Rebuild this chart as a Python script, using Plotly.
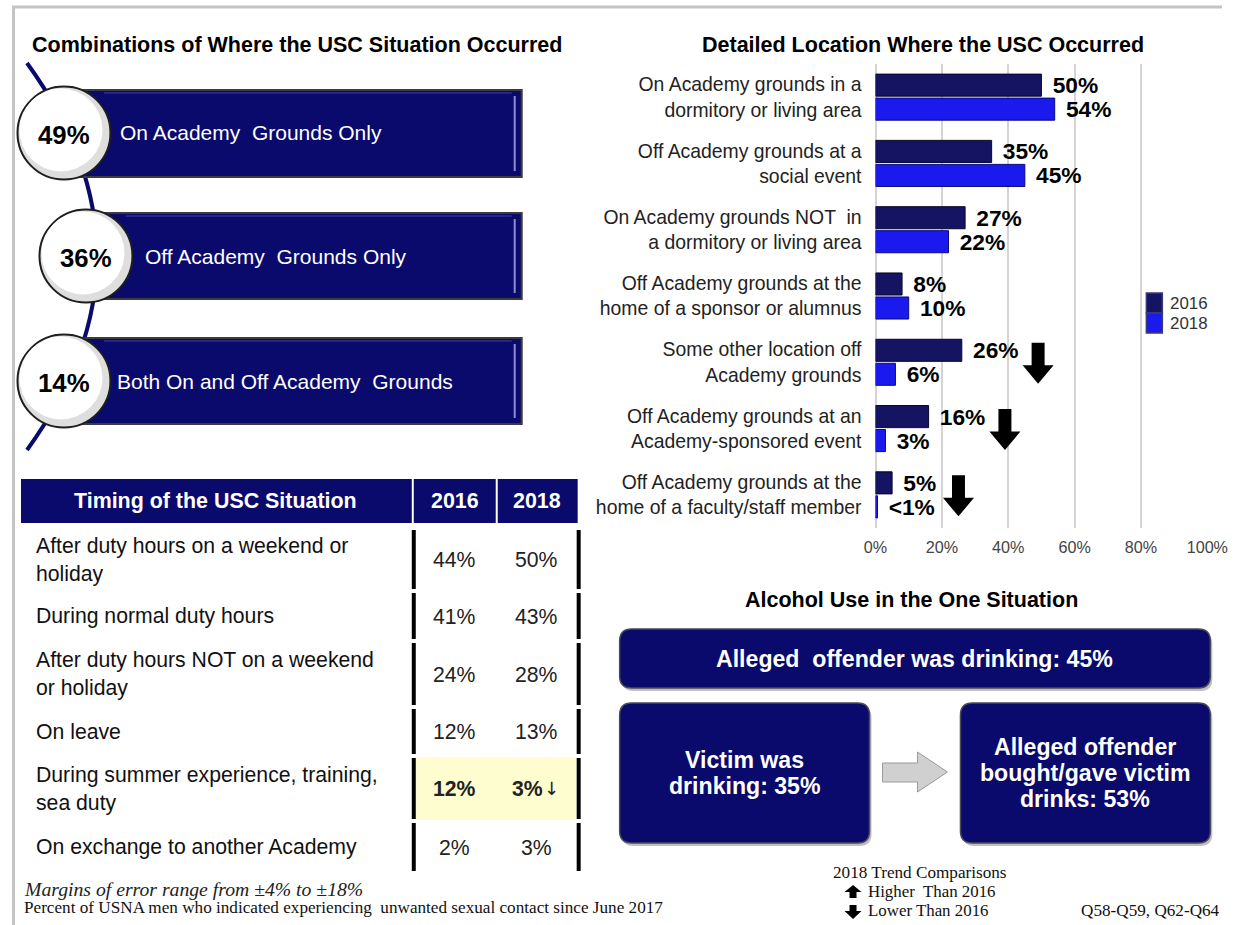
import plotly.graph_objects as go

W, H = 1243, 925
SANS = "Liberation Sans, Arial, sans-serif"
SERIF = "Liberation Serif, Times New Roman, serif"
NAVY = "#0a0a6c"
C2016 = "#141462"
C2018 = "#1a1aef"

# ---------------- data ----------------
combo_values = ["49%", "36%", "14%"]
combo_labels = ["On Academy  Grounds Only", "Off Academy  Grounds Only",
                "Both On and Off Academy  Grounds"]

years = ["2016", "2018"]
location_labels = [
    "On Academy grounds in a<br>dormitory or living area",
    "Off Academy grounds at a<br>social event",
    "On Academy grounds NOT  in<br>a dormitory or living area",
    "Off Academy grounds at the<br>home of a sponsor or alumnus",
    "Some other location off<br>Academy grounds",
    "Off Academy grounds at an<br>Academy-sponsored event",
    "Off Academy grounds at the<br>home of a faculty/staff member",
]
location_2016 = [50, 35, 27, 8, 26, 16, 5]
location_2018 = [54, 45, 22, 10, 6, 3, 0.6]
location_2016_text = ["50%", "35%", "27%", "8%", "26%", "16%", "5%"]
location_2018_text = ["54%", "45%", "22%", "10%", "6%", "3%", "<1%"]
location_trend = ["", "", "", "", "down", "down", "down"]

timing_title = "Timing of the USC Situation"
timing_labels = [
    "After duty hours on a weekend or<br>holiday",
    "During normal duty hours",
    "After duty hours NOT on a weekend<br>or holiday",
    "On leave",
    "During summer experience, training,<br>sea duty",
    "On exchange to another Academy",
]
timing_2016 = ["44%", "41%", "24%", "12%", "12%", "2%"]
timing_2018 = ["50%", "43%", "28%", "13%", "3%", "3%"]
timing_trend = ["", "", "", "", "down", ""]
timing_highlight = [False, False, False, False, True, False]

alcohol_title = "Alcohol Use in the One Situation"
alcohol_top = "Alleged  offender was drinking: 45%"
alcohol_left = ["Victim was", "drinking: 35%"]
alcohol_right = ["Alleged offender", "bought/gave victim", "drinks: 53%"]

# ---------------- helpers ----------------
# horizontal placement correction measured from the rendered pictures
SX, OX = 0.974, 12.0


def X(px):
    return min(max(((px - OX) / SX) / W, 0.0), 1.0)


def Y(py):
    return 1 - py / H


def P(x, y):
    return f"{X(x):.5f},{Y(y):.5f}"


FS = 1.01
shapes = []
annotations = []


def rect(x0, y0, x1, y1, fill, line=None, lw=0):
    shapes.append(dict(type="rect", xref="paper", yref="paper",
                       x0=X(x0), x1=X(x1), y0=Y(y1), y1=Y(y0),
                       fillcolor=fill, line=dict(color=line or fill, width=lw)))


def seg(x0, y0, x1, y1, color, lw):
    shapes.append(dict(type="line", xref="paper", yref="paper",
                       x0=X(x0), x1=X(x1), y0=Y(y0), y1=Y(y1),
                       line=dict(color=color, width=lw)))


def circle(cx, cy, r, fill, line=None, lw=0):
    shapes.append(dict(type="circle", xref="paper", yref="paper",
                       x0=X(cx - r), x1=X(cx + r), y0=Y(cy + r), y1=Y(cy - r),
                       fillcolor=fill, line=dict(color=line or fill, width=lw)))


def path(d, fill=None, line="rgba(0,0,0,0)", lw=0, xref="paper"):
    sh = dict(type="path", xref=xref, yref="paper", path=d,
              line=dict(color=line, width=lw))
    if fill:
        sh["fillcolor"] = fill
    shapes.append(sh)


def rrect(x0, y0, x1, y1, r, fill, line, lw):
    d = (f"M {P(x0 + r, y0)} L {P(x1 - r, y0)} Q {P(x1, y0)} {P(x1, y0 + r)} "
         f"L {P(x1, y1 - r)} Q {P(x1, y1)} {P(x1 - r, y1)} L {P(x0 + r, y1)} "
         f"Q {P(x0, y1)} {P(x0, y1 - r)} L {P(x0, y0 + r)} Q {P(x0, y0)} {P(x0 + r, y0)} Z")
    path(d, fill=fill, line=line, lw=lw)


def text(x, y, s, size, color="black", bold=False, italic=False,
         family=SANS, xanchor="center"):
    if bold:
        s = f"<b>{s}</b>"
    if italic:
        s = f"<i>{s}</i>"
    annotations.append(dict(x=X(x), y=Y(y), xref="paper", yref="paper",
                            text=s, showarrow=False, xanchor=xanchor,
                            yanchor="middle", align="left" if xanchor == "left" else "center",
                            font=dict(size=size * FS, color=color, family=family)))


def esc(s):
    return s.replace("<", "&lt;")


def sp(s):
    return s.replace("  ", "\u00a0 ")


# ---------------- page frame ----------------
seg(0, 7, W + 40, 7, "#c4c4c4", 3)
seg(13.5, 7, 13.5, H, "#c4c4c4", 3)

# ---------------- combinations (top left) ----------------
text(30, 45, "Combinations of Where the USC Situation Occurred", 21.3, bold=True, xanchor="left")
path(f"M {P(27, 63)} Q {P(167, 256.5)} {P(27, 450)}", line=NAVY, lw=4)

combo_geom = [(64, 133, 90, 177, 118), (86, 256, 213, 299, 143), (64, 381, 338, 424, 115)]
for (cx, cy, by0, by1, tx), val, lab in zip(combo_geom, combo_values, combo_labels):
    rect(cx, by0, 522, by1, NAVY, "#3c3c3c", 2)
    seg(515, by0 + 6, 515, by1 - 6, "#8d8dcf", 2)
    seg(cx + 40, by0 + 3, 512, by0 + 3, "#26268a", 2)
    circle(cx, cy, 46.5, "#dedede", "#1e1e1e", 2)
    circle(cx - 3, cy - 3, 41.5, "#ffffff")
    text(cx, cy + 2, val, 25.5, bold=True)
    text(tx, cy, sp(lab), 20.8, color="white", xanchor="left")

# ---------------- timing table (bottom left) ----------------
rect(21, 479, 578, 523, NAVY)
seg(413, 479, 413, 523, "white", 2)
seg(497, 479, 497, 523, "white", 2)
text(216, 501, timing_title, 21.2, color="white", bold=True)
text(455, 501, years[0], 21.2, color="white", bold=True)
text(537, 501, years[1], 21.2, color="white", bold=True)

rb = [528, 591, 641, 707, 756, 821, 873]
for i, (lab, a, b, tr, hl) in enumerate(zip(timing_labels, timing_2016, timing_2018,
                                             timing_trend, timing_highlight)):
    y0, y1 = rb[i], rb[i + 1]
    cy = (y0 + y1) / 2
    if hl:
        rect(416, y0 + 1, 577, y1 - 1, "#fdfdcf")
    seg(414, y0 + 2, 414, y1 - 2, "black", 4)
    seg(579, y0 + 2, 579, y1 - 2, "black", 4)
    text(34, cy, lab, 21, color="#111", xanchor="left")
    text(455, cy, a, 21, color="#222", bold=hl)
    if tr == "down":
        text(545, cy, b, 21, color="#222", bold=hl, xanchor="right")
        text(542, cy, "↓", 18, color="#222", family="DejaVu Sans", xanchor="left")
    else:
        text(537, cy, b, 21, color="#222", bold=hl)

text(22, 889, "Margins of error range from ±4% to ±18%", 19.5, color="#222",
     italic=True, family=SERIF, xanchor="left")
text(22, 907, sp("Percent of USNA men who indicated experiencing  unwanted sexual contact since June 2017"),
     17, color="#111", family=SERIF, xanchor="left")

# ---------------- detailed location bar chart ----------------
text(924, 45, "Detailed Location Where the USC Occurred", 21.3, bold=True)

PX0, PX1, PY0, PY1 = 876, 1208, 64, 528
NB = "\u00a0\u200a"
fig = go.Figure()
fig.add_trace(go.Bar(
    y=location_labels, x=location_2016, orientation="h", name=years[0],
    marker=dict(color=C2016, line=dict(color="#07072c", width=1)),
    text=[f"<b>{NB}{esc(t)}</b>" for t in location_2016_text],
    textposition="outside", cliponaxis=False, constraintext="none",
    textfont=dict(size=22.5 * FS, color="black", family=SANS), hoverinfo="skip"))
fig.add_trace(go.Bar(
    y=location_labels, x=location_2018, orientation="h", name=years[1],
    marker=dict(color=C2018, line=dict(color="#0a0a80", width=1)),
    text=[f"<b>{NB}{esc(t)}</b>" for t in location_2018_text],
    textposition="outside", cliponaxis=False, constraintext="none",
    textfont=dict(size=22.5 * FS, color="black", family=SANS), hoverinfo="skip"))

grp_h = (PY1 - PY0) / len(location_labels)
xunit = (PX1 - PX0) / 100.0
for i, (trend, v, lab) in enumerate(zip(location_trend, location_2016, location_2016_text)):
    if trend != "down":
        continue
    cx = v + 14 + 3 * len(lab)
    cy = PY0 + (i + 0.5) * grp_h + 1
    hw, sw = 15.5 / xunit, 6.5 / xunit
    top, hs, tip = cy - 20.5, cy + 2, cy + 20.5
    d = (f"M {cx - sw:.3f},{Y(top):.5f} L {cx + sw:.3f},{Y(top):.5f} L {cx + sw:.3f},{Y(hs):.5f} "
         f"L {cx + hw:.3f},{Y(hs):.5f} L {cx:.3f},{Y(tip):.5f} L {cx - hw:.3f},{Y(hs):.5f} "
         f"L {cx - sw:.3f},{Y(hs):.5f} Z")
    path(d, fill="black", xref="x")

for k, (yr, col) in enumerate(zip(years, [C2016, C2018])):
    y0 = 293 + 20 * k
    rect(1147, y0, 1163, y0 + 20, col, "#3a3a7a", 1.5)
    text(1169, y0 + 10, yr, 16.7, color="#333", xanchor="left")

# ---------------- alcohol section ----------------
text(912, 600, alcohol_title, 21.3, bold=True)
for (x0, y0, x1, y1) in [(620, 629, 1211, 688), (620, 703, 870, 843), (961, 703, 1211, 843)]:
    rrect(x0 + 2, y0 + 3, x1 + 2, y1 + 3, 12, "#bfbfbf", "rgba(0,0,0,0)", 0)
    rrect(x0, y0, x1, y1, 12, NAVY, "#4a4a5a", 1.5)
text(915, 659, sp(alcohol_top), 22.9, color="white", bold=True)
for k, line in enumerate(alcohol_left):
    y = 773 + (k - (len(alcohol_left) - 1) / 2) * 26
    text(745, y, line, 22.9, color="white", bold=True)
for k, line in enumerate(alcohol_right):
    y = 773 + (k - (len(alcohol_right) - 1) / 2) * 26
    text(1086, y, line, 22.9, color="white", bold=True)
path(f"M {P(883, 763)} L {P(918, 763)} L {P(918, 752)} L {P(948, 772)} L {P(918, 792)} "
     f"L {P(918, 782)} L {P(883, 782)} Z", fill="#d0d0d0", line="#9a9a9a", lw=1)

# ---------------- trend legend / footer ----------------
text(921, 872, "2018 Trend Comparisons", 17, color="#111", family=SERIF)
path(f"M {P(850, 898)} L {P(857, 898)} L {P(857, 892)} L {P(862, 892)} L {P(853.5, 885)} "
     f"L {P(845, 892)} L {P(850, 892)} Z", fill="black")
path(f"M {P(850, 905)} L {P(857, 905)} L {P(857, 911)} L {P(862, 911)} L {P(853.5, 919)} "
     f"L {P(845, 911)} L {P(850, 911)} Z", fill="black")
text(866, 891, sp("Higher  Than 2016"), 16.7, color="#111", family=SERIF, xanchor="left")
text(866, 910, "Lower Than 2016", 16.7, color="#111", family=SERIF, xanchor="left")
text(1233, 910, "Q58-Q59, Q62-Q64", 17, color="#111", family=SERIF, xanchor="right")

fig.update_layout(
    width=W, height=H, autosize=False,
    margin=dict(l=0, r=0, t=0, b=0, pad=0),
    paper_bgcolor="white", plot_bgcolor="white",
    barmode="group", bargap=0.276, bargroupgap=0.08,
    font=dict(family=SANS),
    xaxis=dict(domain=[X(PX0), X(PX1)], range=[0, 100], dtick=20, ticksuffix="%",
               showgrid=True, gridcolor="#d4d4d4", gridwidth=1.5,
               zeroline=True, zerolinecolor="#d4d4d4", zerolinewidth=1.5,
               showline=False, ticks="", ticklabelstandoff=8, ticklabeloverflow="allow",
               tickfont=dict(size=16 * FS, color="#444", family=SANS), fixedrange=True),
    yaxis=dict(domain=[Y(PY1), Y(PY0)], autorange="reversed", showgrid=False,
               ticks="", ticklabelstandoff=13, showline=False,
               tickfont=dict(size=19.2 * FS, color="#222", family=SANS), fixedrange=True),
    showlegend=False,
    shapes=shapes, annotations=annotations,
)

fig.write_html("out.html", config={"displayModeBar": False},
               post_script="document.body.style.margin='0px';")
